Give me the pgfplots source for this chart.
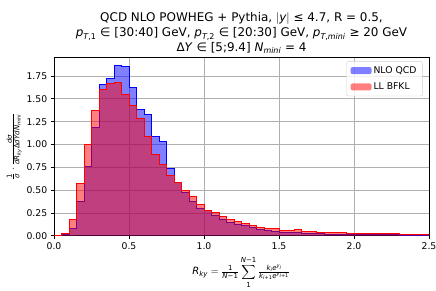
\documentclass[border=0pt]{standalone}
\usepackage{fontspec}
\setmainfont{DejaVu Sans}
\usepackage{amsmath}
\usepackage{pgfplots}
\pgfplotsset{compat=1.18}
\usepackage{pgfplotstable}
\newcommand{\vi}[1]{\textit{#1}}
\definecolor{gridc}{HTML}{B0B0B0}

\pgfplotstableread{
x y
0.00 0.0
0.05 0.01
0.10 0.08
0.15 0.373
0.20 0.763
0.25 1.183
0.30 1.654
0.35 1.724
0.40 1.862
0.45 1.851
0.50 1.625
0.55 1.388
0.60 1.33
0.65 1.085
0.70 1.03
0.75 0.738
0.80 0.581
0.85 0.475
0.90 0.38
0.95 0.30
1.00 0.275
1.05 0.225
1.10 0.18
1.15 0.15
1.20 0.125
1.25 0.11
1.30 0.088
1.35 0.066
1.40 0.052
1.45 0.045
1.50 0.038
1.55 0.036
1.60 0.033
1.65 0.027
1.70 0.024
1.75 0.02
1.80 0.018
1.85 0.016
1.90 0.015
1.95 0.014
2.00 0.012
2.05 0.011
2.10 0.010
2.15 0.009
2.20 0.008
2.25 0.008
2.30 0.007
2.35 0.006
2.40 0.006
2.45 0.005
2.50 0.005
}\nlo

\pgfplotstableread{
x y
0.00 0.0
0.05 0.02
0.10 0.18
0.15 0.574
0.20 1.0
0.25 1.377
0.30 1.603
0.35 1.669
0.40 1.683
0.45 1.544
0.50 1.428
0.55 1.286
0.60 1.089
0.65 0.895
0.70 0.782
0.75 0.665
0.80 0.581
0.85 0.493
0.90 0.427
0.95 0.345
1.00 0.28
1.05 0.255
1.10 0.205
1.15 0.183
1.20 0.153
1.25 0.13
1.30 0.11
1.35 0.092
1.40 0.082
1.45 0.078
1.50 0.062
1.55 0.058
1.60 0.066
1.65 0.045
1.70 0.042
1.75 0.040
1.80 0.038
1.85 0.032
1.90 0.030
1.95 0.028
2.00 0.026
2.05 0.025
2.10 0.024
2.15 0.022
2.20 0.020
2.25 0.019
2.30 0.018
2.35 0.018
2.40 0.017
2.45 0.016
2.50 0.016
}\bfkl

\begin{document}
\begin{tikzpicture}
\begin{axis}[
  at={(0,0)}, anchor=south west,
  scale only axis, width=375bp, height=178.4bp,
  xmin=0, xmax=2.5, ymin=0, ymax=1.955,
  xtick={0,0.5,...,2.5},
  ytick={0,0.25,...,1.75},
  xticklabel style={/pgf/number format/.cd, fixed, fixed zerofill, precision=1},
  yticklabel style={/pgf/number format/.cd, fixed, fixed zerofill, precision=2},
  /pgf/number format/assume math mode=true,
  tick label style={font=\fontsize{9.3}{11}\selectfont},
  tick align=outside, tick pos=left,
  major tick length=3.3bp,
  every tick/.style={black, line width=0.75bp},
  axis line style={line width=0.75bp},
  grid=major,
  major grid style={gridc, line width=0.75bp},
  title style={align=center, font=\fontsize{12}{15}\selectfont, at={(0.5,1)}, anchor=south, yshift=-5.5bp},
  title={QCD NLO POWHEG + Pythia, $|\vi{y}|$ ≤ 4.7, R = 0.5,\\
    $\vi{p}_{\text{\itshape T}\text{,1}}$ ∈ [30:40] GeV, $\vi{p}_{\text{\itshape T}\text{,2}}$ ∈ [20:30] GeV, $\vi{p}_{\text{\itshape T}\text{,}\text{\itshape mini}}$ ≥ 20 GeV\\
    Δ\vi{Y} ∈ [5;9.4] $\vi{N}_{\vi{mini}}$ = 4},
  xlabel={$\vi{R}_{\vi{ky}} = \tfrac{\text{1}}{\vi{N}\text{−1}}\displaystyle\sum_{\text{1}}^{\vi{N}\text{−1}}\tfrac{\vi{k}_{\vi{i}}\vi{e}^{\vi{y}_{\vi{i}}}}{\vi{k}_{\vi{i}\text{+1}}\vi{e}^{\vi{y}_{\vi{i}\text{+1}}}}$},
  xlabel style={font=\fontsize{10}{12}\selectfont, yshift=0bp},
  ylabel={$\tfrac{\text{1}}{\vi{σ}}\cdot\tfrac{\vi{dσ}}{\vi{dR}_{\vi{ky}}\text{Δ}\vi{dY}\vi{dN}_{\vi{mini}}}$},
  ylabel style={font=\fontsize{10}{12}\selectfont, yshift=-2bp},
  legend style={at={(0.983,0.978)}, anchor=north east, draw=black!18, rounded corners=2pt,
    fill=white, fill opacity=0.8, text opacity=1, font=\fontsize{9.3}{11}\selectfont,
    inner xsep=4bp, inner ysep=3bp, row sep=4bp, cells={anchor=west}},
  legend image code/.code={\fill[#1] (0bp,-3.5bp) rectangle (21bp,3.5bp);},
  legend cell align=left,
]
\addplot[const plot, fill=blue, fill opacity=0.5, draw=none] table {\nlo} \closedcycle;
\addlegendentry{NLO QCD}
\addplot[const plot, draw=blue, line width=1bp, forget plot] table {\nlo};
\addplot[const plot, fill=red, fill opacity=0.5, draw=none] table {\bfkl} \closedcycle;
\addlegendentry{LL BFKL}
\addplot[const plot, draw=red, line width=1bp, forget plot] table {\bfkl};
\end{axis}
\pgfresetboundingbox
\path (-54bp,-55.3bp) rectangle (382bp,235.7bp);
\end{tikzpicture}
\end{document}
